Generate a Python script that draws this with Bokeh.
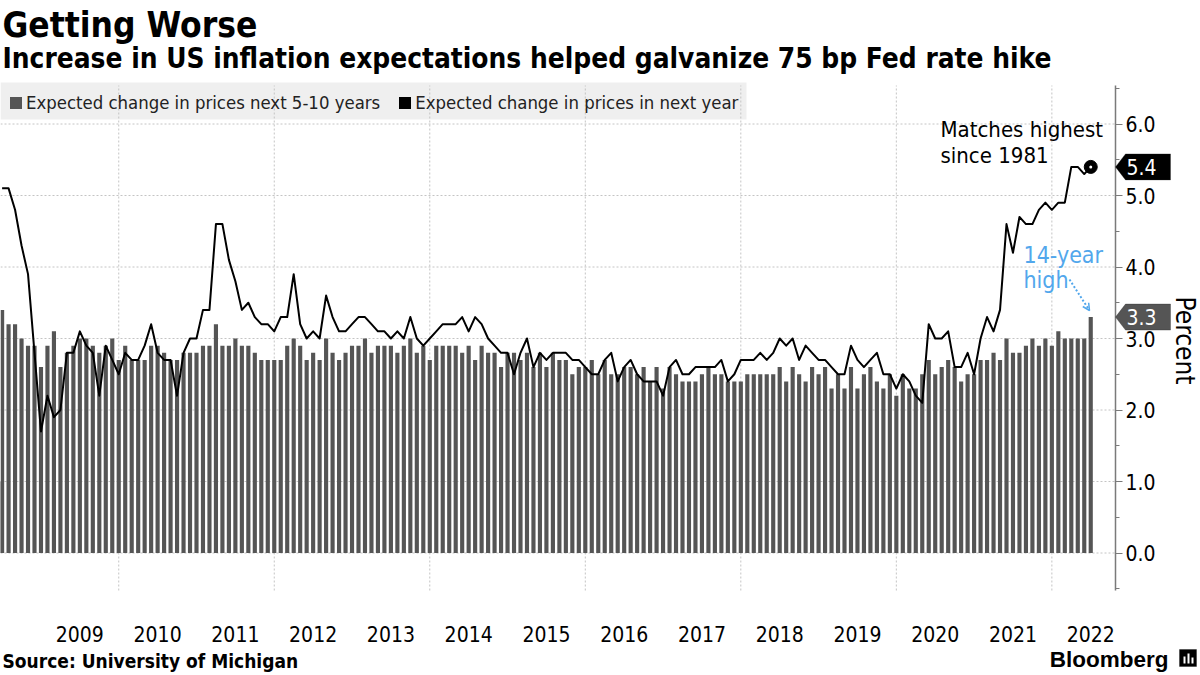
from math import pi
import numpy as np
from bokeh.plotting import figure
from bokeh.models import (Range1d, FixedTicker, Label, PolyAnnotation, Arrow, OpenHead,
                          Legend, LegendItem, ColumnDataSource, PrintfTickFormatter)
from bokeh.embed import file_html
from bokeh.resources import INLINE

# ---------------- data (monthly, Jun 2008 .. Jun 2022) ----------------
first_month = "2008-06"
long_term = [  # Expected change in prices next 5-10 years
    3.4, 3.2, 3.2, 3.0, 2.9, 2.9, 2.6, 2.9, 3.1, 2.6, 2.8, 2.9, 3.0, 3.0, 2.9, 2.8,
    2.9, 3.0, 2.7, 2.9, 2.7, 2.7, 2.7, 2.9, 2.9, 2.8, 2.7, 2.7, 2.8, 2.8, 2.8, 2.9,
    2.9, 3.2, 2.9, 2.9, 3.0, 2.9, 2.9, 2.8, 2.7, 2.7, 2.7, 2.7, 2.9, 3.0, 2.9,
    2.7, 2.8, 2.7, 3.0, 2.8, 2.7, 2.8, 2.9, 2.9, 3.0, 2.8, 2.9, 2.9, 2.9, 2.8, 2.9,
    3.0, 2.8, 2.9, 2.7, 2.9, 2.9, 2.9, 2.9, 2.8, 2.9, 2.7, 2.9, 2.8, 2.8, 2.6, 2.8,
    2.8, 2.7, 2.8, 2.6, 2.8, 2.6, 2.8, 2.7, 2.7, 2.5, 2.6,
    2.6, 2.7, 2.5, 2.7, 2.5, 2.5, 2.6, 2.6, 2.5, 2.6, 2.4, 2.6, 2.3, 2.6, 2.5, 2.4,
    2.4, 2.4, 2.5, 2.6, 2.5, 2.5, 2.4, 2.4, 2.4, 2.5, 2.5, 2.5, 2.5, 2.5, 2.6, 2.4,
    2.6, 2.5, 2.4, 2.6, 2.5, 2.6, 2.3, 2.5, 2.3, 2.6, 2.3,
    2.5, 2.6, 2.4, 2.3, 2.5, 2.2, 2.5, 2.3, 2.3, 2.5, 2.7, 2.5, 2.6, 2.7, 2.6, 2.4,
    2.5, 2.5, 2.7, 2.7, 2.8, 2.7, 3.0, 2.8, 2.8, 2.9, 3.0, 2.9, 3.0, 2.9, 3.1, 3.0,
    3.0, 3.0, 3.0, 3.3,
]
one_year = [  # Expected change in prices in next year
    5.1, 5.1, 4.8, 4.3, 3.9, 2.8, 1.7, 2.2, 1.9, 2.0, 2.8, 2.8, 3.1, 2.9, 2.8, 2.2,
    2.9, 2.7, 2.5, 2.8, 2.7, 2.7, 2.9, 3.2, 2.8, 2.7, 2.7, 2.2, 2.8, 3.0, 3.0, 3.4,
    3.4, 4.6, 4.6, 4.1, 3.8, 3.4, 3.5, 3.3, 3.2, 3.2, 3.1, 3.3, 3.3, 3.9, 3.2,
    3.0, 3.1, 3.0, 3.6, 3.3, 3.1, 3.1, 3.2, 3.3, 3.3, 3.2, 3.1, 3.1, 3.0, 3.1, 3.0,
    3.3, 3.0, 2.9, 3.0, 3.1, 3.2, 3.2, 3.2, 3.3, 3.1, 3.3, 3.2, 3.0, 2.9, 2.8, 2.8,
    2.5, 2.8, 3.0, 2.6, 2.8, 2.7, 2.8, 2.8, 2.8, 2.7, 2.7,
    2.6, 2.5, 2.5, 2.7, 2.8, 2.4, 2.6, 2.7, 2.5, 2.4, 2.4, 2.4, 2.2, 2.6, 2.7, 2.5,
    2.5, 2.6, 2.6, 2.6, 2.6, 2.7, 2.4, 2.5, 2.7, 2.7, 2.7, 2.8, 2.7, 2.8, 3.0, 2.9,
    3.0, 2.7, 2.9, 2.8, 2.7, 2.7, 2.6, 2.5, 2.5, 2.9, 2.7,
    2.6, 2.7, 2.8, 2.5, 2.5, 2.3, 2.5, 2.4, 2.2, 2.1, 3.2, 3.0, 3.0, 3.1, 2.6, 2.6,
    2.8, 2.5, 3.0, 3.3, 3.1, 3.4, 4.6, 4.2, 4.7, 4.6, 4.6, 4.8, 4.9, 4.8, 4.9, 4.9,
    5.4, 5.4, 5.3, 5.4,
]
assert len(long_term) == len(one_year) == 169

year_labels = ["2009", "2010", "2011", "2012", "2013", "2014", "2015",
               "2016", "2017", "2018", "2019", "2020", "2021", "2022"]
y_ticks = [0, 1, 2, 3, 4, 5, 6]
series_names = ["Expected change in prices next 5-10 years",
                "Expected change in prices in next year"]

# month index 0 = end of June 2008
month_idx = np.arange(len(long_term))
year_tick_pos = [12 * (int(y) - 2008) for y in year_labels]   # mid-year label positions
grid_pos = [18 + 24 * k for k in range(7)]                     # January of even years

# ---------------- layout constants ----------------
W, H = 1200, 675
FONT = "'DejaVu Sans Condensed', 'DejaVu Sans', sans-serif"
BAR_COLOR = "#555555"
BLUE = "#52A7EC"
PX_PER_MONTH, X_OFF = 6.48, 1.6        # page x = X_OFF + PX_PER_MONTH * month
PX_PER_UNIT, Y_ZERO = 71.5, 552.5      # page y = Y_ZERO - PX_PER_UNIT * value
MID = 0.35                             # baseline -> em-box middle, in em


def dx(px):
    return (px - X_OFF) / PX_PER_MONTH


def dy(py):
    return (Y_ZERO - py) / PX_PER_UNIT


PA_L, PA_R, PA_T, PA_B = dx(0), dx(1115), dy(85), dy(590)   # plot area

src = ColumnDataSource(dict(x=month_idx, long=long_term, one=one_year))
last = ColumnDataSource(dict(x=[month_idx[-1]], y=[one_year[-1]]))

p = figure(width=W, height=H, output_backend="svg", toolbar_location=None,
           x_range=Range1d(dx(0), dx(W)), y_range=Range1d(dy(H), dy(0)),
           y_axis_location="right", min_border=0)
p.min_border_left = p.min_border_right = p.min_border_top = p.min_border_bottom = 0
p.outline_line_color = None
p.background_fill_color = "white"
p.border_fill_color = "white"
p.xgrid.visible = False
p.ygrid.visible = False

# legend background (under the grid lines)
legend_bg = PolyAnnotation(xs=[dx(0), dx(746), dx(746), dx(0)],
                           ys=[dy(82), dy(82), dy(119), dy(119)],
                           fill_color="#efefef", fill_alpha=1, line_color=None)
legend_bg.level = "underlay"
p.add_layout(legend_bg)

# grid lines limited to the plot area
GRID = dict(line_color="#c4c4c4", line_dash="2 2", line_width=1)
p.segment(x0=[PA_L] * len(y_ticks), x1=[PA_R] * len(y_ticks), y0=y_ticks, y1=y_ticks, **GRID)
p.segment(x0=grid_pos, x1=grid_pos, y0=[PA_B] * len(grid_pos), y1=[PA_T] * len(grid_pos), **GRID)

# glyphs
bars = p.vbar(x="x", top="long", bottom=0, width=0.64, source=src,
              fill_color=BAR_COLOR, line_color=None)
p.line("x", "one", source=src, line_color="black", line_width=2, line_join="round")
p.scatter("x", "y", source=last, size=13, fill_color="black", line_color="black")
p.scatter("x", "y", source=last, size=3, fill_color="white", line_color=None)
dummy = p.vbar(x=[-50], top=[1], width=0.6, fill_color="black", line_color=None)

# axes (drawn at fixed locations inside the canvas)
ya = p.yaxis[0]
ya.fixed_location = PA_R
ya.bounds = (PA_B, PA_T)
ya.ticker = FixedTicker(ticks=y_ticks, minor_ticks=[t + 0.5 for t in range(-1, 7)])
ya.formatter = PrintfTickFormatter(format="%.1f")
ya.axis_line_color = "#7a7a7a"
ya.axis_line_width = 1.5
ya.major_tick_line_color = "#7a7a7a"
ya.minor_tick_line_color = "#7a7a7a"
ya.major_tick_out = 7
ya.major_tick_in = 0
ya.minor_tick_out = 4
ya.minor_tick_in = 0
ya.major_label_standoff = 3
ya.major_label_text_font = FONT
ya.major_label_text_font_size = "21px"
ya.major_label_text_color = "black"

xa = p.xaxis[0]
xa.fixed_location = PA_B
xa.ticker = FixedTicker(ticks=year_tick_pos)
xa.major_label_overrides = {pos: lab for pos, lab in zip(year_tick_pos, year_labels)}
xa.axis_line_color = None
xa.major_tick_line_color = None
xa.minor_tick_line_color = None
xa.major_label_standoff = 29
xa.major_label_text_font = FONT
xa.major_label_text_font_size = "21px"
xa.major_label_text_color = "black"

# legend (background drawn separately above)
legend = Legend(items=[LegendItem(label=series_names[0], renderers=[bars]),
                       LegendItem(label=series_names[1], renderers=[dummy])],
                orientation="horizontal", location=(8, H - 113), margin=0, padding=9,
                spacing=17, glyph_width=15, glyph_height=15, label_standoff=3,
                label_height=19, label_text_font=FONT, label_text_font_size="18.4px",
                label_text_color="#222222", background_fill_alpha=0,
                border_line_color=None)
p.add_layout(legend)


def add_text(px, base_y, text, size, bold=False, color="black", align="left",
             font=FONT, angle=0.0):
    """Place text so that its baseline sits at page y = base_y (horizontal text)."""
    p.add_layout(Label(x=dx(px), y=dy(base_y - MID * size), text=text, text_font=font,
                       text_font_size=f"{size}px",
                       text_font_style="bold" if bold else "normal",
                       text_color=color, text_align=align, text_baseline="middle",
                       angle=angle))


# titles & footer
add_text(2, 37, "Getting Worse", 35, bold=True)
add_text(2, 68, "Increase in US inflation expectations helped galvanize 75 bp Fed rate hike",
         27.8, bold=True)
add_text(2, 667, "Source: University of Michigan", 19, bold=True)
add_text(1168, 667, "Bloomberg", 22.5, bold=True, align="right",
         font="'Liberation Sans', Arial, sans-serif")
p.add_layout(PolyAnnotation(xs=[dx(1179), dx(1196), dx(1196), dx(1179)],
                            ys=[dy(649), dy(649), dy(666), dy(666)],
                            fill_color="black", fill_alpha=1, line_color="black"))
for bx, top in ((1183, 656), (1187, 653), (1191, 657)):
    p.add_layout(PolyAnnotation(xs=[dx(bx), dx(bx + 2), dx(bx + 2), dx(bx)],
                                ys=[dy(top), dy(top), dy(663), dy(663)],
                                fill_color="white", fill_alpha=1, line_color=None))

# annotations
add_text(940, 137, "Matches highest", 22)
add_text(940, 163, "since 1981", 22)
add_text(1023, 263, "14-year", 23, color=BLUE)
add_text(1023, 288, "high", 23, color=BLUE)
p.add_layout(Arrow(x_start=dx(1069), y_start=dy(279), x_end=dx(1089), y_end=dy(310),
                   line_color=BLUE, line_width=2, line_dash="2 2",
                   end=OpenHead(size=7, line_color=BLUE, line_width=1.5)))
# axis title, reading top to bottom; its em-box middle sits at page x = 1184
p.add_layout(Label(x=dx(1184), y=dy(340), text="Percent", text_font=FONT,
                   text_font_size="26px", text_color="black", text_align="center",
                   text_baseline="middle", angle=-pi / 2))

# value tags on the axis
px_x, px_y = 1 / PX_PER_MONTH, 1 / PX_PER_UNIT
for val, fill in ((one_year[-1], "black"), (long_term[-1], BAR_COLOR)):
    h = 13 * px_y
    xs = [PA_R, PA_R + 10 * px_x, PA_R + 55 * px_x, PA_R + 55 * px_x, PA_R + 10 * px_x]
    ys = [val, val + h, val + h, val - h, val - h]
    p.add_layout(PolyAnnotation(xs=xs, ys=ys, fill_color=fill, fill_alpha=1,
                                line_color="#222222", line_width=1))
    p.add_layout(Label(x=PA_R + 26 * px_x, y=val, text=f"{val:.1f}", text_font=FONT,
                       text_font_size="21px", text_color="white",
                       text_align="center", text_baseline="middle"))

open("out.html", "w").write(file_html(p, INLINE))
